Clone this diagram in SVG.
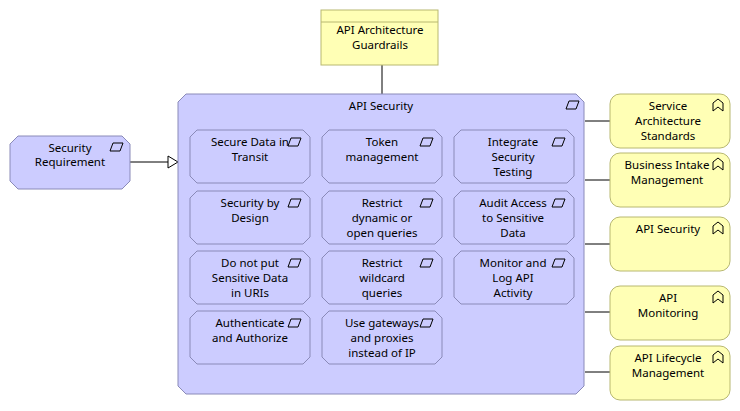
<svg xmlns="http://www.w3.org/2000/svg" width="740" height="411" viewBox="0 0 740 411">
<style>
text{font-family:"Noto Sans","Liberation Sans",sans-serif;font-size:11.5px;fill:#000;text-anchor:middle}
.p{fill:#ccccff;stroke:#8a8ab8;stroke-width:1}
.y{fill:#ffffb5;stroke:#b8b870;stroke-width:1}
.ic{fill:none;stroke:#000;stroke-width:1}
.c{stroke:#000;stroke-width:1;fill:none}
</style>
<defs>
<path id="para" d="M3,0 H13 L10,8 H0 Z" class="ic"/>
<path id="chev" d="M0,4 L5,0 L10,4 V12 L5,8 L0,12 Z" class="ic"/>
</defs>
<g id="connectors">
<line class="c" x1="382" y1="65" x2="382" y2="94"/>
<line class="c" x1="130" y1="162" x2="168" y2="162"/>
<path d="M168,156 L178,162 L168,168 Z" fill="#fff" stroke="#000"/>
<line class="c" x1="585" y1="121" x2="610" y2="121"/>
<line class="c" x1="585" y1="180" x2="610" y2="180"/>
<line class="c" x1="585" y1="244" x2="610" y2="244"/>
<line class="c" x1="585" y1="312" x2="610" y2="312"/>
<line class="c" x1="585" y1="372" x2="610" y2="372"/>
</g>
<g id="guardrails">
<rect class="y" x="321" y="10" width="117" height="55"/>
<line x1="321" y1="22" x2="438" y2="22" stroke="#b8b870"/>
<text x="380" y="34">API Architecture</text><text x="380" y="49">Guardrails</text>
</g>
<g id="api-security-group">
<path class="p" d="M186,94 H576 L584,102 V386 L576,394 H186 L178,386 V102 Z"/>
<text x="381" y="110">API Security</text>
<use href="#para" x="566" y="101"/>
</g>
<g id="secreq">
<path class="p" d="M18,136 H122 L130,144 V181 L122,189 H18 L10,181 V144 Z"/>
<text x="70" y="152">Security</text><text x="70" y="166">Requirement</text>
<use href="#para" x="110" y="143"/>
</g>
<g id="inner">
<g id="n1"><path class="p" d="M197,130 H303 L310,137 V176 L303,183 H197 L190,176 V137 Z"/><text x="250" y="146">Secure Data in</text><text x="250" y="161">Transit</text><use href="#para" x="288" y="138"/></g>
<g id="n2"><path class="p" d="M329,130 H435 L442,137 V176 L435,183 H329 L322,176 V137 Z"/><text x="382" y="146">Token</text><text x="382" y="161">management</text><use href="#para" x="420" y="138"/></g>
<g id="n3"><path class="p" d="M461,130 H567 L574,137 V176 L567,183 H461 L454,176 V137 Z"/><text x="513" y="146">Integrate</text><text x="513" y="161">Security</text><text x="513" y="176">Testing</text><use href="#para" x="552" y="138"/></g>
<g id="n4"><path class="p" d="M197,191 H303 L310,198 V237 L303,244 H197 L190,237 V198 Z"/><text x="250" y="207">Security by</text><text x="250" y="222">Design</text><use href="#para" x="288" y="199"/></g>
<g id="n5"><path class="p" d="M329,191 H435 L442,198 V237 L435,244 H329 L322,237 V198 Z"/><text x="382" y="207">Restrict</text><text x="382" y="222">dynamic or</text><text x="382" y="237">open queries</text><use href="#para" x="420" y="199"/></g>
<g id="n6"><path class="p" d="M461,191 H567 L574,198 V237 L567,244 H461 L454,237 V198 Z"/><text x="513" y="207">Audit Access</text><text x="513" y="222">to Sensitive</text><text x="513" y="237">Data</text><use href="#para" x="552" y="199"/></g>
<g id="n7"><path class="p" d="M197,251 H303 L310,258 V297 L303,304 H197 L190,297 V258 Z"/><text x="250" y="267">Do not put</text><text x="250" y="282">Sensitive Data</text><text x="250" y="297">in URIs</text><use href="#para" x="288" y="259"/></g>
<g id="n8"><path class="p" d="M329,251 H435 L442,258 V297 L435,304 H329 L322,297 V258 Z"/><text x="382" y="267">Restrict</text><text x="382" y="282">wildcard</text><text x="382" y="297">queries</text><use href="#para" x="420" y="259"/></g>
<g id="n9"><path class="p" d="M461,251 H567 L574,258 V297 L567,304 H461 L454,297 V258 Z"/><text x="513" y="267">Monitor and</text><text x="513" y="282">Log API</text><text x="513" y="297">Activity</text><use href="#para" x="552" y="259"/></g>
<g id="n10"><path class="p" d="M197,311 H303 L310,318 V357 L303,364 H197 L190,357 V318 Z"/><text x="250" y="327">Authenticate</text><text x="250" y="342">and Authorize</text><use href="#para" x="288" y="319"/></g>
<g id="n11"><path class="p" d="M329,311 H435 L442,318 V357 L435,364 H329 L322,357 V318 Z"/><text x="382" y="327">Use gateways</text><text x="382" y="342">and proxies</text><text x="382" y="357">instead of IP</text><use href="#para" x="420" y="319"/></g>
</g>
<g id="r1"><rect class="y" x="610" y="94" width="120" height="54" rx="10"/><text x="668" y="110">Service</text><text x="668" y="125">Architecture</text><text x="668" y="140">Standards</text><use href="#chev" x="713" y="99"/></g>
<g id="r2"><rect class="y" x="610" y="153" width="120" height="54" rx="10"/><text x="667" y="169">Business Intake</text><text x="667" y="184">Management</text><use href="#chev" x="713" y="158"/></g>
<g id="r3"><rect class="y" x="610" y="217" width="120" height="54" rx="10"/><text x="668" y="233">API Security</text><use href="#chev" x="713" y="222"/></g>
<g id="r4"><rect class="y" x="610" y="286" width="120" height="54" rx="10"/><text x="668" y="302">API</text><text x="668" y="317">Monitoring</text><use href="#chev" x="713" y="291"/></g>
<g id="r5"><rect class="y" x="610" y="346" width="120" height="54" rx="10"/><text x="668" y="362">API Lifecycle</text><text x="668" y="377">Management</text><use href="#chev" x="713" y="351"/></g>
</svg>
